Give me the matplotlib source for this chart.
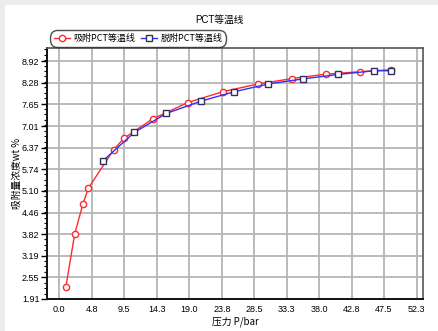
import matplotlib
matplotlib.use("Agg")
import matplotlib.pyplot as plt
from matplotlib.patches import Rectangle
from matplotlib.ticker import AutoMinorLocator

plt.rcParams['font.family'] = ['Liberation Sans', 'Noto Sans CJK SC', 'DejaVu Sans']

title = "PCT等温线"
xlabel = "压力 P/bar"
ylabel = "吸附量浓度wt %"
ads_label = "吸附PCT等温线"
des_label = "脱附PCT等温线"

ads_p = [1.0, 2.3, 3.5, 4.3, 8.0, 9.5, 13.7, 18.8, 23.9, 29.1, 34.1, 39.0, 44.0, 48.5]
ads_c = [2.26, 3.83, 4.71, 5.18, 6.31, 6.65, 7.22, 7.70, 8.02, 8.25, 8.41, 8.54, 8.61, 8.67]

des_p = [6.4, 11.0, 15.7, 20.7, 25.6, 30.6, 35.7, 40.8, 46.1, 48.5]
des_c = [5.98, 6.82, 7.38, 7.74, 8.02, 8.25, 8.40, 8.53, 8.64, 8.64]

xticks = [0.0, 4.8, 9.5, 14.3, 19.0, 23.8, 28.5, 33.3, 38.0, 42.8, 47.5, 52.3]
xtick_labels = ["0.0", "4.8", "9.5", "14.3", "19.0", "23.8", "28.5", "33.3", "38.0", "42.8", "47.5", "52.3"]
yticks = [1.91, 2.55, 3.19, 3.82, 4.46, 5.10, 5.74, 6.37, 7.01, 7.65, 8.28, 8.92]
ytick_labels = ["1.91", "2.55", "3.19", "3.82", "4.46", "5.10", "5.74", "6.37", "7.01", "7.65", "8.28", "8.92"]

W, H = 438, 331
fig = plt.figure(figsize=(W / 100, H / 100), dpi=100, facecolor='#ececec')
bg = Rectangle((5 / W, 0), 1 - 5 / W, 1 - 5 / H, transform=fig.transFigure,
               facecolor='white', edgecolor='none', zorder=-10)
fig.patches.append(bg)

ax = fig.add_axes([47 / W, 1 - 299 / H, (423 - 47) / W, (299 - 48) / H])
ax.set_zorder(1)
ax.set_xlim(-1.75, 53.2)
ax.set_ylim(1.91, 9.31)

ax.set_xticks(xticks)
ax.set_xticklabels(xtick_labels)
ax.set_yticks(yticks)
ax.set_yticklabels(ytick_labels)
ax.yaxis.set_minor_locator(AutoMinorLocator(4))
ax.grid(True, which='major', color='#b4b4b4', lw=1.3, zorder=1)
ax.tick_params(axis='x', length=0, labelsize=6.5, pad=4)
ax.tick_params(axis='y', which='major', length=4, width=1, labelsize=6.5, pad=1.5)
ax.tick_params(axis='y', which='minor', length=2, width=0.8)

for s in ['left', 'bottom']:
    ax.spines[s].set_color('#111111')
    ax.spines[s].set_linewidth(1.4)
for s in ['top', 'right']:
    ax.spines[s].set_color('#555555')
    ax.spines[s].set_linewidth(1.2)

ax.plot(ads_p, ads_c, color='#ff2a2a', lw=1.0, marker='o', ms=4.5, mfc='white',
        mec='#ff2a2a', mew=1.0, label=ads_label, zorder=3)
ax.plot(des_p, des_c, color='#3030ff', lw=1.0, marker='s', ms=4.0, mfc='white',
        mec='#30305a', mew=1.0, label=des_label, zorder=4)

leg = fig.legend(loc='center', bbox_to_anchor=(138 / W, 1 - 38.5 / H), ncol=2,
                 frameon=True, fancybox=True, handlelength=1.8,
                 handletextpad=0.4, columnspacing=0.6, borderpad=0.2,
                 prop={'family': ['Noto Sans CJK SC', 'DejaVu Sans'], 'size': 6.5})
leg.set_zorder(5)
leg.get_frame().set_edgecolor('#222222')
leg.get_frame().set_linewidth(1.0)
leg.get_frame().set_boxstyle('round,pad=0.2,rounding_size=0.8')

fig.text(219 / W, 1 - 20 / H, title, ha='center', va='center', fontsize=7,
         family=['Liberation Sans', 'Noto Sans CJK SC'])
ax.set_xlabel(xlabel, fontsize=7, labelpad=2, family=['Noto Sans CJK SC', 'DejaVu Sans'])
ax.set_ylabel(ylabel, fontsize=7, labelpad=0, family=['Noto Sans CJK SC', 'DejaVu Sans'])

fig.savefig('out.png', dpi=100, facecolor=fig.get_facecolor())
